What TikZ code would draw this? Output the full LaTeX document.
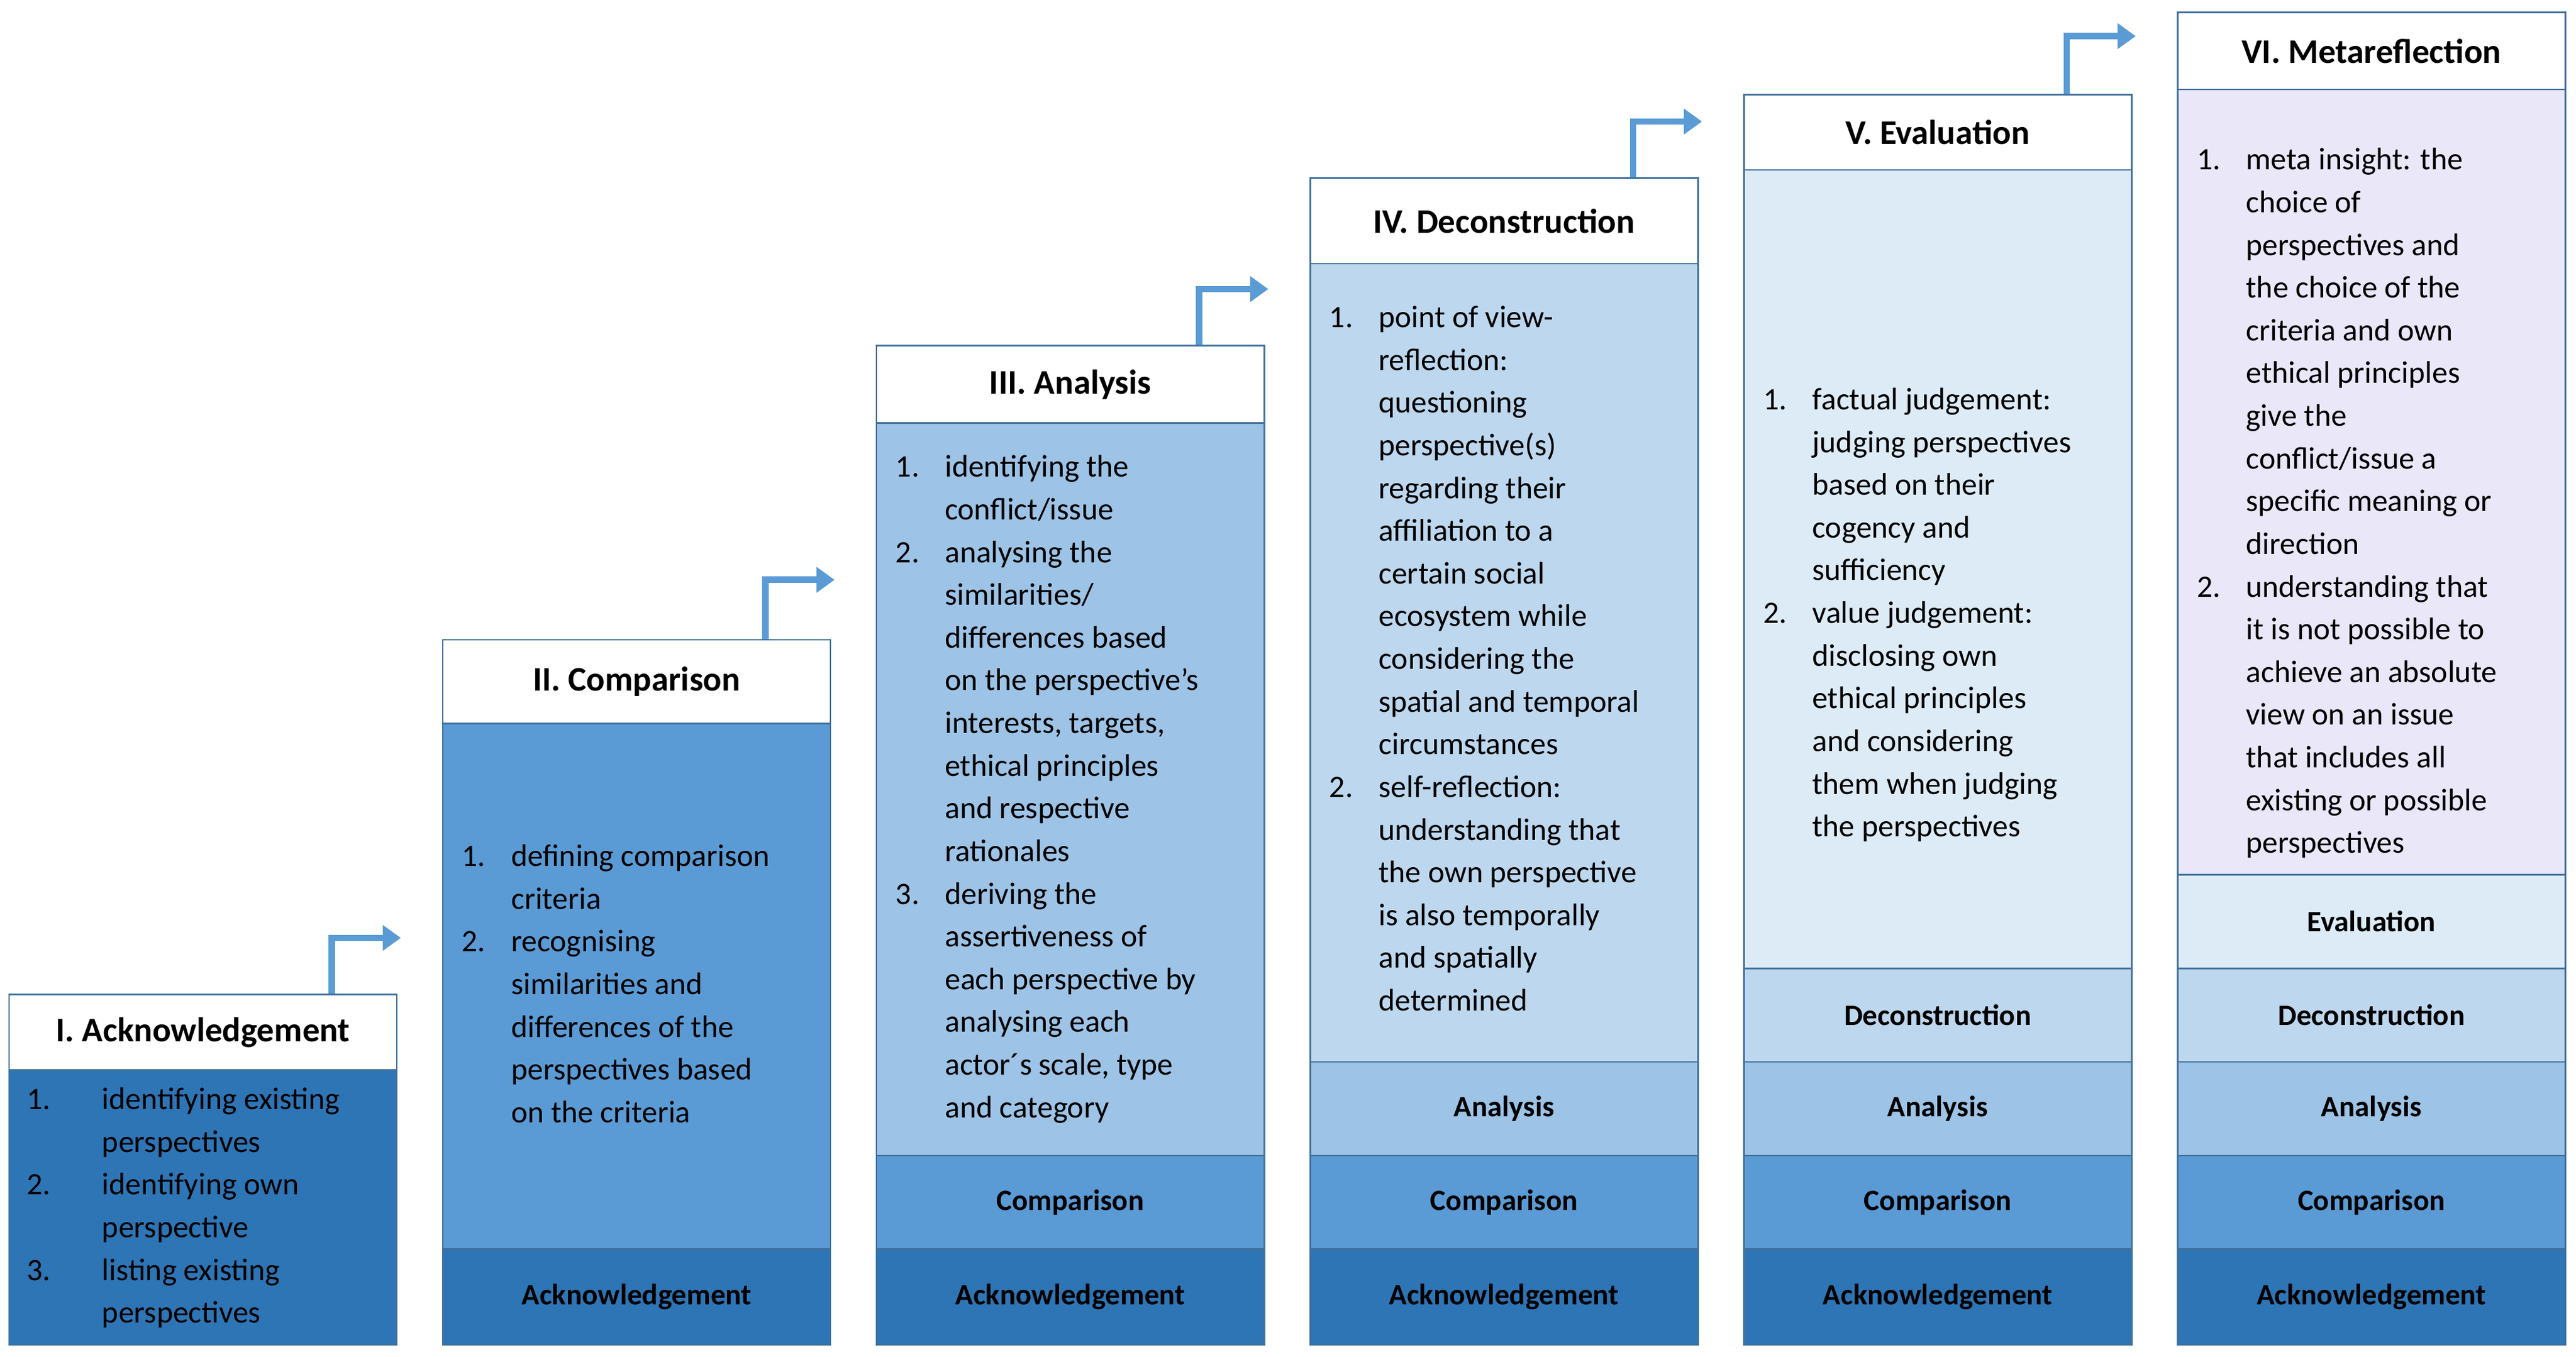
\documentclass[tikz,border=0pt]{standalone}
\usepackage{fontspec}
\setmainfont{Carlito}
\usetikzlibrary{arrows.meta}
\definecolor{cA}{HTML}{2E75B6}
\definecolor{cB}{HTML}{5B9BD5}
\definecolor{cC}{HTML}{9DC3E6}
\definecolor{cD}{HTML}{BDD7EE}
\definecolor{cE}{HTML}{DDEBF7}
\definecolor{cF}{HTML}{E9E7F8}
\definecolor{edge}{HTML}{41719C}
\newcommand\lstx[2]{\begin{tabular}{@{}p{#1pt}@{}l@{}}#2\end{tabular}}
\begin{document}
\begin{tikzpicture}[x=1pt,y=-1pt,
  box/.style={draw=edge,line width=1pt,rectangle,inner sep=0pt,anchor=north west,minimum width=236pt,font=\fontsize{18}{22}\selectfont\bfseries},
  head/.style={box,fill=white,font=\fontsize{21}{25}\selectfont\bfseries},
  txt/.style={anchor=north west,inner sep=0pt,align=left,font=\fontsize{19}{26}\selectfont},
  arr/.style={draw=cB,line width=4pt,-{Triangle[width=15pt,length=11pt]}}]
\useasboundingbox (0,0) rectangle (1568,826);
% column 1
\node[box,fill=cA,minimum height=167pt] (b1) at (5,651) {};
\node[head,minimum height=46pt] (h1) at (5,605) {I. Acknowledgement};
\node[txt] (t1) at (16,657) {\lstx{46}{1. & identifying existing\\ & perspectives\\ 2. & identifying own\\ & perspective\\ 3. & listing existing\\ & perspectives}};
% column 2
\node[box,fill=cA,minimum height=58pt] (a2) at (269,760) {Acknowledgement};
\node[box,fill=cB,minimum height=320pt] (b2) at (269,440) {};
\node[head,minimum height=51pt] (h2) at (269,389) {II. Comparison};
\node[txt] (t2) at (281,509) {\lstx{30}{1. & defining comparison\\ & criteria\\ 2. & recognising\\ & similarities and\\ & differences of the\\ & perspectives based\\ & on the criteria}};
% column 3
\node[box,fill=cA,minimum height=58pt] (a3) at (533,760) {Acknowledgement};
\node[box,fill=cB,minimum height=57pt] (c3) at (533,703) {Comparison};
\node[box,fill=cC,minimum height=446pt] (b3) at (533,257) {};
\node[head,minimum height=47pt] (h3) at (533,210) {III. Analysis};
\node[txt] (t3) at (545,272) {\lstx{30}{1. & identifying the\\ & conflict/issue\\ 2. & analysing the\\ & similarities/\\ & differences based\\ & on the perspective's\\ & interests, targets,\\ & ethical principles\\ & and respective\\ & rationales\\ 3. & deriving the\\ & assertiveness of\\ & each perspective by\\ & analysing each\\ & actor´s scale, type\\ & and category}};
% column 4
\node[box,fill=cA,minimum height=58pt] (a4) at (797,760) {Acknowledgement};
\node[box,fill=cB,minimum height=57pt] (c4) at (797,703) {Comparison};
\node[box,fill=cC,minimum height=57pt] (n4) at (797,646) {Analysis};
\node[box,fill=cD,minimum height=486pt] (b4) at (797,160) {};
\node[head,minimum height=52pt] (h4) at (797,108) {IV. Deconstruction};
\node[txt] (t4) at (809,181) {\lstx{30}{1. & point of view-\\ & reflection:\\ & questioning\\ & perspective(s)\\ & regarding their\\ & affiliation to a\\ & certain social\\ & ecosystem while\\ & considering the\\ & spatial and temporal\\ & circumstances\\ 2. & self-reflection:\\ & understanding that\\ & the own perspective\\ & is also temporally\\ & and spatially\\ & determined}};
% column 5
\node[box,fill=cA,minimum height=58pt] (a5) at (1061,760) {Acknowledgement};
\node[box,fill=cB,minimum height=57pt] (c5) at (1061,703) {Comparison};
\node[box,fill=cC,minimum height=57pt] (n5) at (1061,646) {Analysis};
\node[box,fill=cD,minimum height=57pt] (d5) at (1061,589) {Deconstruction};
\node[box,fill=cE,minimum height=486pt] (b5) at (1061,103) {};
\node[head,minimum height=46pt] (h5) at (1061,57) {V. Evaluation};
\node[txt] (t5) at (1073,231) {\lstx{30}{1. & factual judgement:\\ & judging perspectives\\ & based on their\\ & cogency and\\ & sufficiency\\ 2. & value judgement:\\ & disclosing own\\ & ethical principles\\ & and considering\\ & them when judging\\ & the perspectives}};
% column 6
\node[box,fill=cA,minimum height=58pt] (a6) at (1325,760) {Acknowledgement};
\node[box,fill=cB,minimum height=57pt] (c6) at (1325,703) {Comparison};
\node[box,fill=cC,minimum height=57pt] (n6) at (1325,646) {Analysis};
\node[box,fill=cD,minimum height=57pt] (d6) at (1325,589) {Deconstruction};
\node[box,fill=cE,minimum height=57pt] (e6) at (1325,532) {Evaluation};
\node[box,fill=cF,minimum height=478pt] (b6) at (1325,54) {};
\node[head,minimum height=47pt] (h6) at (1325,7) {VI. Metareflection};
\node[txt] (t6) at (1337,85) {\lstx{30}{1. & meta insight: the\\ & choice of\\ & perspectives and\\ & the choice of the\\ & criteria and own\\ & ethical principles\\ & give the\\ & conflict/issue a\\ & specific meaning or\\ & direction\\ 2. & understanding that\\ & it is not possible to\\ & achieve an absolute\\ & view on an issue\\ & that includes all\\ & existing or possible\\ & perspectives}};
% arrows
\foreach \h/\s in {h1/34,h2/36,h3/34,h4/34,h5/35}{
  \draw[arr] ([xshift=-40pt]\h.north east) |- ([xshift=2pt,yshift=\s pt]\h.north east);
}
\end{tikzpicture}
\end{document}
